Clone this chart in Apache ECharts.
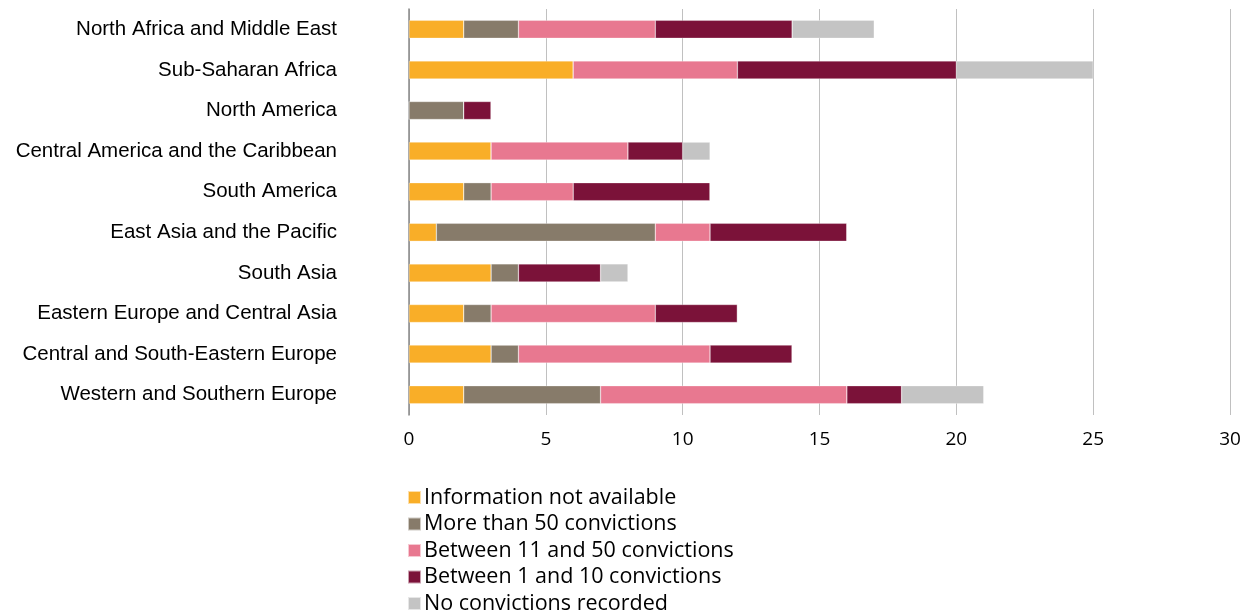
<!DOCTYPE html>
<html><head><meta charset="utf-8">
<script src="https://cdn.jsdelivr.net/npm/echarts@6/dist/echarts.min.js"></script>
<style>html,body{margin:0;padding:0;background:#fff}#c{width:1256px;height:614px}</style>
</head><body><div id="c"></div>
<script>
const categories = ["North Africa and Middle East","Sub-Saharan Africa","North America","Central America and the Caribbean","South America","East Asia and the Pacific","South Asia","Eastern Europe and Central Asia","Central and South-Eastern Europe","Western and Southern Europe"];
const seriesNames = ["Information not available","More than 50 convictions","Between 11 and 50 convictions","Between 1 and 10 convictions","No convictions recorded"];
const infoNA   = [2,6,0,3,2,1,3,2,3,2];
const over50   = [2,0,2,0,1,8,1,1,1,5];
const b11to50  = [5,6,0,5,3,2,0,6,7,9];
const b1to10   = [5,8,1,2,5,5,3,3,3,2];
const noneRec  = [3,5,0,1,0,0,1,0,0,3];
const colors = ["#F9AE28","#877B6A","#E87890","#7B1239","#C4C4C4"];
const values = [infoNA, over50, b11to50, b1to10, noneRec];
const xTicks = {min:0, max:30, interval:5};

const chart = echarts.init(document.getElementById('c'));
chart.setOption({
  animation:false,
  grid:{left:409, right:26, top:9, bottom:199, containLabel:false},
  legend:{
    orient:'vertical', left:402, top:481, height:140, itemWidth:13, itemHeight:13, itemGap:3.5,
    icon:'rect', data:seriesNames,
    textStyle:{fontFamily:'Open Sans', fontSize:21.5, lineHeight:23, color:'#000', padding:[0,0,0,-2]}
  },
  xAxis:{type:'value', min:xTicks.min, max:xTicks.max, interval:xTicks.interval,
    axisLine:{show:false}, axisTick:{show:false},
    splitLine:{show:true, lineStyle:{color:'#c0c0c0', width:1}},
    axisLabel:{fontFamily:'Open Sans', fontSize:19, color:'#000', margin:15}
  },
  yAxis:{type:'category', data:categories, inverse:true,
    axisLine:{show:true, lineStyle:{color:'#888', width:1.5}}, axisTick:{show:false},
    axisLabel:{fontFamily:'Liberation Sans', fontSize:20.5, color:'#000', margin:72}
  },
  series: seriesNames.map((n,i)=>({
    name:n, type:'bar', stack:'t', data:values[i], barWidth:18,
    itemStyle:{color:colors[i], borderColor:'rgba(255,255,255,0.6)', borderWidth:0.5}
  }))
});
</script></body></html>
